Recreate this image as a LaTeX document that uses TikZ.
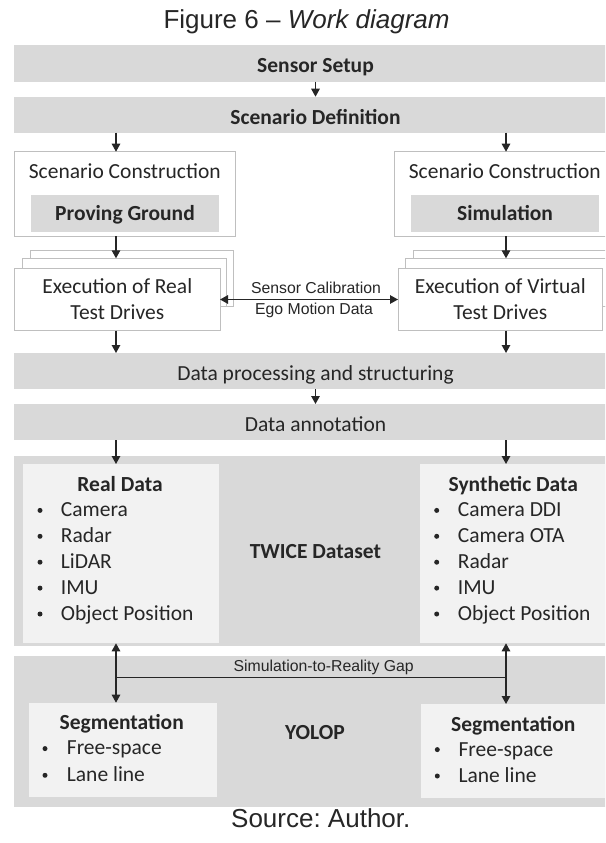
\documentclass[tikz,border=0pt]{standalone}
\usepackage{fontspec}
\setmainfont{Carlito}
\newfontfamily\capfont{Liberation Sans}
\usetikzlibrary{arrows.meta}
\definecolor{barfill}{HTML}{D9D9D9}
\definecolor{panefill}{HTML}{F2F2F2}
\definecolor{rimgray}{HTML}{BFBFBF}
\definecolor{ink}{HTML}{262626}
\frenchspacing
\begin{document}
\begin{tikzpicture}[x=1pt,y=-1pt,
  bar/.style={fill=barfill, draw=none, inner sep=0pt, outer sep=0pt, anchor=north west, minimum width=604pt},
  pane/.style={fill=panefill, draw=none, inner sep=0pt, outer sep=0pt, anchor=north west},
  framebox/.style={fill=white, draw=rimgray, line width=0.9pt, inner sep=0pt, outer sep=0pt, anchor=north west},
  txt/.style={font=\fontsize{21.5}{26}\selectfont, text=ink, inner sep=0pt, anchor=base},
  btxt/.style={txt, font=\fontsize{21.5}{26}\selectfont\bfseries},
  itemtxt/.style={txt, anchor=base west},
  bul/.style={circle, fill=ink, draw=none, inner sep=0pt, minimum size=5pt},
  captxt/.style={font=\capfont\fontsize{26}{30}\selectfont, text=ink, inner sep=0pt},
  notetxt/.style={font=\capfont\fontsize{15.8}{18}\selectfont, text=ink, inner sep=0pt, anchor=base},
  arr/.style={draw=ink, line width=1.3pt, -{Triangle[length=8pt,width=8.5pt]}},
  darr/.style={draw=ink, line width=1.3pt, {Triangle[length=8pt,width=8.5pt]}-{Triangle[length=8pt,width=8.5pt]}},
  gapline/.style={draw=ink, line width=1.3pt},
]
\useasboundingbox (0,0) rectangle (605,843);
\fill[white] (0,0) rectangle (605,843);
\clip (0,0) rectangle (605,843);

% arrow columns
\coordinate (xl) at (116,0);
\coordinate (xr) at (506,0);

% caption
\node[captxt, anchor=base west] (title) at (163.3,28.3) {Figure 6 – \textit{Work diagram}};

% full-width stages
\node[bar, minimum height=36.7pt] (setup) at (13.5,45) {};
\node[btxt] (setupT) at (315.5,72.7) {Sensor Setup};
\node[bar, minimum height=36pt] (sdef) at (13.5,96.7) {};
\node[btxt] (sdefT) at (315.5,124.2) {Scenario Definition};

% scenario construction
\node[framebox, minimum width=221pt, minimum height=84.3pt] (scL) at (14.3,151.7) {};
\node[framebox, minimum width=221pt, minimum height=84.3pt] (scR) at (394.3,151.7) {};
\node[txt] (scLT) at (124.8,178.2) {Scenario Construction};
\node[txt] (scRT) at (504.8,178.2) {Scenario Construction};
\node[bar, minimum width=188.2pt, minimum height=36.7pt] (pg) at (30.9,195) {};
\node[bar, minimum width=188.2pt, minimum height=36.7pt] (sim) at (410.9,195) {};
\node[btxt] (pgT) at (125,220) {Proving Ground};
\node[btxt] (simT) at (505,220) {Simulation};

% stacked test drive boxes
\node[framebox, minimum width=203.3pt, minimum height=56pt] (exBackL) at (30,250) {};
\node[framebox, minimum width=204.7pt, minimum height=48pt] (exMidL) at (22,258.3) {};
\node[framebox, minimum width=205.3pt, minimum height=62.4pt] (exL) at (14.7,268.3) {};
\node[txt] (exLT1) at (117.3,293.2) {Execution of Real};
\node[txt] (exLT2) at (117.3,319.8) {Test Drives};
\node[framebox, minimum width=203.3pt, minimum height=56pt] (exBackR) at (413,250) {};
\node[framebox, minimum width=204.7pt, minimum height=48pt] (exMidR) at (405,258.3) {};
\node[framebox, minimum width=204.7pt, minimum height=62.4pt] (exR) at (398,268.3) {};
\node[txt] (exRT1) at (500.3,293.2) {Execution of Virtual};
\node[txt] (exRT2) at (500.3,319.8) {Test Drives};

\draw[darr] (exL.east) -- (exR.west);
\node[notetxt] (calT) at (316,293) {Sensor Calibration};
\node[notetxt] (egoT) at (314,314) {Ego Motion Data};

% processing stages
\node[bar, minimum height=36.3pt] (proc) at (13.5,353) {};
\node[txt] (procT) at (315.5,380.5) {Data processing and structuring};
\node[bar, minimum height=36pt] (annot) at (13.5,404) {};
\node[txt] (annotT) at (315.5,431) {Data annotation};

% dataset
\node[bar, minimum height=190pt] (twice) at (13.5,456) {};
\node[pane, minimum width=196pt, minimum height=179.3pt] (real) at (22.7,464) {};
\node[pane, minimum width=196pt, minimum height=179.3pt] (synth) at (420,464) {};
\node[btxt] (twiceT) at (315.4,558.2) {TWICE Dataset};

\node[btxt] (realT) at (120,491.5) {Real Data};
\foreach \t [count=\i from 0] in {Camera,Radar,LiDAR,IMU,Object Position}{
  \node[bul] (realB\i) at (40,510.4+25.9*\i) {};
  \node[itemtxt] (realI\i) at (60.7,516.6+25.9*\i) {\t};
}
\node[btxt] (synthT) at (513.3,491) {Synthetic Data};
\foreach \t [count=\i from 0] in {Camera DDI,Camera OTA,Radar,IMU,Object Position}{
  \node[bul] (synthB\i) at (436.7,510.4+25.9*\i) {};
  \node[itemtxt] (synthI\i) at (457.7,516.6+25.9*\i) {\t};
}

% segmentation
\node[bar, minimum height=151.3pt] (yolop) at (13.5,656) {};
\node[pane, minimum width=187.7pt, minimum height=94pt] (segL) at (29,702.7) {};
\node[pane, minimum width=187pt, minimum height=94.3pt] (segR) at (420.7,704) {};
\node[btxt] (yolopT) at (315,739.5) {YOLOP};
\node[btxt] (segLT) at (121.7,729) {Segmentation};
\node[bul] (segLB0) at (45,748.6) {};
\node[itemtxt] (segLI0) at (66.7,754.8) {Free-space};
\node[bul] (segLB1) at (45,775.3) {};
\node[itemtxt] (segLI1) at (66.7,781.5) {Lane line};
\node[btxt] (segRT) at (513.3,731) {Segmentation};
\node[bul] (segRB0) at (437.3,749.6) {};
\node[itemtxt] (segRI0) at (458.3,756.2) {Free-space};
\node[bul] (segRB1) at (437.3,776) {};
\node[itemtxt] (segRI1) at (458.3,782.5) {Lane line};

\coordinate (gapL) at (116,677.5);
\coordinate (gapR) at (506,677.5);
\draw[gapline] (gapL) -- (gapR);
\node[notetxt] (gapT) at (323.7,671.7) {Simulation-to-Reality Gap};

% flow arrows
\draw[arr] (setup.south -| setupT) -- (sdef.north -| setupT);
\draw[arr] (sdef.south -| xl) -- (scL.north -| xl);
\draw[arr] (sdef.south -| xr) -- (scR.north -| xr);
\draw[arr] (scL.south -| xl) -- (exMidL.north -| xl);
\draw[arr] (scR.south -| xr) -- (exMidR.north -| xr);
\draw[arr] (exL.south -| xl) -- (proc.north -| xl);
\draw[arr] (exR.south -| xr) -- (proc.north -| xr);
\draw[arr] (proc.south -| procT) -- (annot.north -| procT);
\draw[arr] (annot.south -| xl) -- (real.north -| xl);
\draw[arr] (annot.south -| xr) -- (synth.north -| xr);
\draw[darr] (real.south -| xl) -- (segL.north -| xl);
\draw[darr] (synth.south -| xr) -- (segR.north -| xr);

\node[captxt, anchor=base] (source) at (320.8,827) {Source: Author.};
\end{tikzpicture}
\end{document}
